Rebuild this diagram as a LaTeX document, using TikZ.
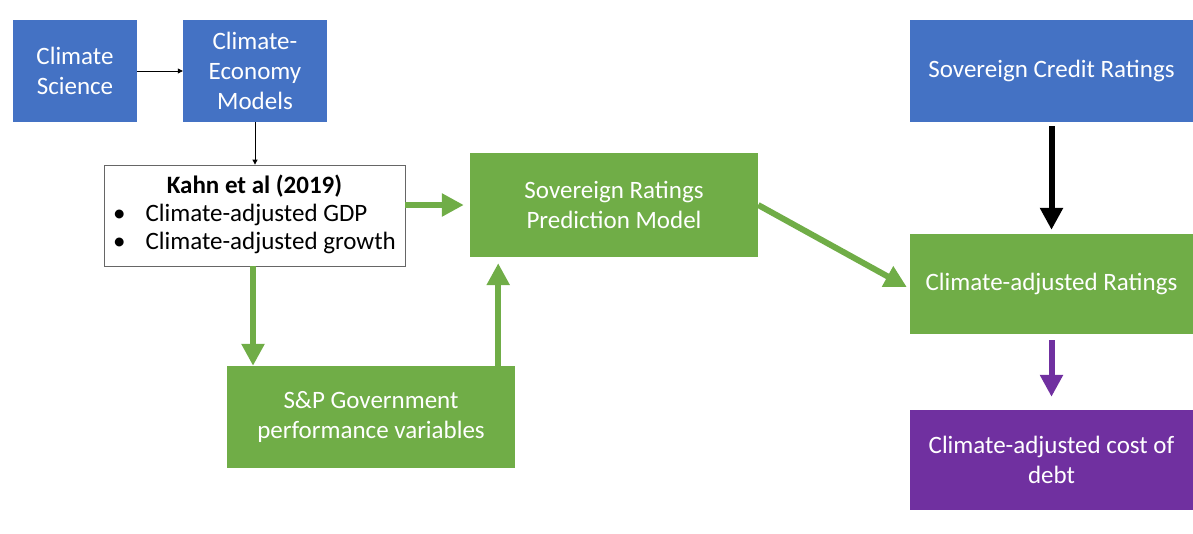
\documentclass[tikz,border=0pt]{standalone}
\usepackage{fontspec}
\setmainfont{Carlito}
\usetikzlibrary{arrows.meta}
\definecolor{cblue}{HTML}{4472C4}
\definecolor{cgreen}{HTML}{70AD47}
\definecolor{cpurple}{HTML}{7030A0}
\definecolor{ctext}{HTML}{404040}
\begin{document}
\begin{tikzpicture}[x=1pt,y=-1pt,
  box/.style={rectangle, inner sep=2pt, align=center, text=white, font=\fontsize{25}{30}\selectfont},
  bluebox/.style={box, fill=cblue},
  greenbox/.style={box, fill=cgreen},
  purplebox/.style={box, fill=cpurple},
  thinarrow/.style={draw=black, line width=0.8pt, -{Triangle[width=5pt,length=5pt]}},
  thickarrow/.style={line width=6pt, -{Triangle[width=22pt,length=22pt]}}
]
\useasboundingbox (0,0) rectangle (1193,533);
\node[bluebox, minimum width=124pt, minimum height=102pt] (cs) at (75,71) {Climate\\Science};
\node[bluebox, minimum width=144pt, minimum height=102pt] (cem) at (255,71) {Climate-\\Economy\\Models};
\node[rectangle, draw=ctext!80, line width=0.8pt, fill=white, text=black, minimum width=301pt, minimum height=101pt, inner sep=0pt, font=\fontsize{25}{30}\selectfont] (kahn) at (254.5,215.5)
  {\begin{tabular}{@{}l@{\hspace{20pt}}l@{}}\multicolumn{2}{c}{\textbf{Kahn et al (2019)}}\\[-2pt] \textbullet & Climate-adjusted GDP\\[-2pt] \textbullet & Climate-adjusted growth\end{tabular}};
\node[greenbox, minimum width=288pt, minimum height=104pt] (srpm) at (614,205) {Sovereign Ratings\\Prediction Model};
\node[greenbox, minimum width=288pt, minimum height=102pt] (sp) at (371,417) {S\&P Government\\performance variables};
\node[bluebox, minimum width=283pt, minimum height=102pt] (scr) at (1051.5,71) {Sovereign Credit Ratings};
\node[greenbox, minimum width=283pt, minimum height=100pt] (car) at (1051.5,284) {Climate-adjusted Ratings};
\node[purplebox, minimum width=283pt, minimum height=100pt] (cod) at (1051.5,460) {Climate-adjusted cost of\\debt};

\draw[thinarrow] (cs.east) -- (cem.west);
\draw[thinarrow] (cem.south) -- (kahn.north -| cem.south);
\draw[thickarrow, cgreen] (kahn.east |- srpm.west) -- ([xshift=-6pt]srpm.west);
\draw[thickarrow, cgreen] ([xshift=-1.5pt]kahn.south) -- ([xshift=-1.5pt]kahn.south |- sp.north);
\coordinate (spup) at ([xshift=-17pt]sp.north east);
\draw[thickarrow, cgreen] (spup) -- ([yshift=-6pt]spup |- srpm.south);
\draw[thickarrow, cgreen] (srpm.east) -- ([xshift=-3pt,yshift=-3pt]car.west);
\draw[thickarrow, black] ([yshift=-4pt]scr.south) -- ([yshift=4pt]scr.south |- car.north);
\draw[thickarrow, cpurple] ([yshift=-6pt]car.south) -- ([yshift=13pt]car.south |- cod.north);
\end{tikzpicture}
\end{document}
